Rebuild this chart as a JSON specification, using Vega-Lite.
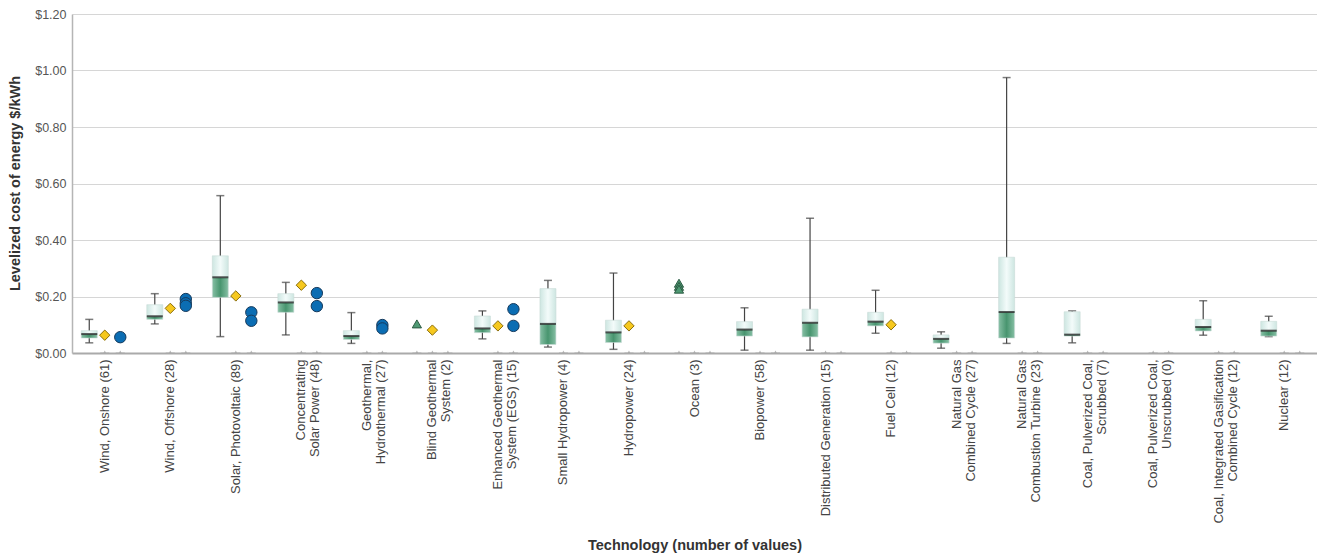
{
  "$schema": "https://vega.github.io/schema/vega-lite/v6.json",
  "autosize": {"type": "none"},
  "width": 1245,
  "height": 339,
  "padding": {"left": 72, "top": 14, "right": 0, "bottom": 201},
  "background": "white",
  "config": {"view": {"stroke": null}, "font": "Liberation Sans"},
  "datasets": {
    "boxes": [
      {"tech": "Wind, Onshore (61)", "lo": 0.036, "q1": 0.053, "median": 0.067, "q3": 0.079, "hi": 0.119},
      {"tech": "Wind, Offshore (28)", "lo": 0.103, "q1": 0.119, "median": 0.130, "q3": 0.171, "hi": 0.210},
      {"tech": "Solar, Photovoltaic (89)", "lo": 0.058, "q1": 0.197, "median": 0.268, "q3": 0.344, "hi": 0.557},
      {"tech": "Concentrating|Solar Power (48)", "lo": 0.064, "q1": 0.144, "median": 0.179, "q3": 0.210, "hi": 0.250},
      {"tech": "Geothermal,|Hydrothermal (27)", "lo": 0.034, "q1": 0.048, "median": 0.060, "q3": 0.079, "hi": 0.143},
      {"tech": "Enhanced Geothermal|System (EGS) (15)", "lo": 0.050, "q1": 0.072, "median": 0.087, "q3": 0.131, "hi": 0.149},
      {"tech": "Small Hydropower (4)", "lo": 0.021, "q1": 0.030, "median": 0.103, "q3": 0.228, "hi": 0.257},
      {"tech": "Hydropower (24)", "lo": 0.013, "q1": 0.037, "median": 0.073, "q3": 0.116, "hi": 0.283},
      {"tech": "Biopower (58)", "lo": 0.010, "q1": 0.060, "median": 0.083, "q3": 0.111, "hi": 0.160},
      {"tech": "Distributed Generation (15)", "lo": 0.010, "q1": 0.057, "median": 0.107, "q3": 0.155, "hi": 0.477},
      {"tech": "Fuel Cell (12)", "lo": 0.070, "q1": 0.096, "median": 0.111, "q3": 0.144, "hi": 0.222},
      {"tech": "Natural Gas|Combined Cycle (27)", "lo": 0.017, "q1": 0.035, "median": 0.050, "q3": 0.064, "hi": 0.075},
      {"tech": "Natural Gas|Combustion Turbine (23)", "lo": 0.034, "q1": 0.053, "median": 0.145, "q3": 0.339, "hi": 0.975},
      {"tech": "Coal, Pulverized Coal,|Scrubbed (7)", "lo": 0.036, "q1": 0.060, "median": 0.065, "q3": 0.146, "hi": 0.149},
      {"tech": "Coal, Integrated Gasification|Combined Cycle (12)", "lo": 0.063, "q1": 0.078, "median": 0.092, "q3": 0.119, "hi": 0.185},
      {"tech": "Nuclear (12)", "lo": 0.058, "q1": 0.060, "median": 0.079, "q3": 0.112, "hi": 0.130}
    ],
    "points": [
      {"tech": "Wind, Onshore (61)", "marker": "diamond", "value": 0.063},
      {"tech": "Wind, Offshore (28)", "marker": "diamond", "value": 0.158},
      {"tech": "Solar, Photovoltaic (89)", "marker": "diamond", "value": 0.202},
      {"tech": "Concentrating|Solar Power (48)", "marker": "diamond", "value": 0.240},
      {"tech": "Blind Geothermal|System (2)", "marker": "diamond", "value": 0.081},
      {"tech": "Enhanced Geothermal|System (EGS) (15)", "marker": "diamond", "value": 0.096},
      {"tech": "Hydropower (24)", "marker": "diamond", "value": 0.096},
      {"tech": "Fuel Cell (12)", "marker": "diamond", "value": 0.100},
      {"tech": "Wind, Onshore (61)", "marker": "circle", "value": 0.056},
      {"tech": "Wind, Offshore (28)", "marker": "circle", "value": 0.191},
      {"tech": "Wind, Offshore (28)", "marker": "circle", "value": 0.176},
      {"tech": "Wind, Offshore (28)", "marker": "circle", "value": 0.167},
      {"tech": "Solar, Photovoltaic (89)", "marker": "circle", "value": 0.144},
      {"tech": "Solar, Photovoltaic (89)", "marker": "circle", "value": 0.114},
      {"tech": "Concentrating|Solar Power (48)", "marker": "circle", "value": 0.212},
      {"tech": "Concentrating|Solar Power (48)", "marker": "circle", "value": 0.166},
      {"tech": "Geothermal,|Hydrothermal (27)", "marker": "circle", "value": 0.099},
      {"tech": "Geothermal,|Hydrothermal (27)", "marker": "circle", "value": 0.087},
      {"tech": "Enhanced Geothermal|System (EGS) (15)", "marker": "circle", "value": 0.155},
      {"tech": "Enhanced Geothermal|System (EGS) (15)", "marker": "circle", "value": 0.096},
      {"tech": "Blind Geothermal|System (2)", "marker": "triangle", "value": 0.103},
      {"tech": "Ocean (3)", "marker": "triangle", "value": 0.247},
      {"tech": "Ocean (3)", "marker": "triangle", "value": 0.236},
      {"tech": "Ocean (3)", "marker": "triangle", "value": 0.226}
    ],
    "zeros": [
      {"tech": "Wind, Onshore (61)", "marker": "diamond"}, {"tech": "Wind, Onshore (61)", "marker": "circle"},
      {"tech": "Wind, Offshore (28)", "marker": "diamond"}, {"tech": "Wind, Offshore (28)", "marker": "circle"},
      {"tech": "Solar, Photovoltaic (89)", "marker": "diamond"}, {"tech": "Solar, Photovoltaic (89)", "marker": "circle"},
      {"tech": "Concentrating|Solar Power (48)", "marker": "diamond"}, {"tech": "Concentrating|Solar Power (48)", "marker": "circle"},
      {"tech": "Geothermal,|Hydrothermal (27)", "marker": "diamond"}, {"tech": "Geothermal,|Hydrothermal (27)", "marker": "circle"},
      {"tech": "Blind Geothermal|System (2)", "marker": "triangle"}, {"tech": "Blind Geothermal|System (2)", "marker": "diamond"}, {"tech": "Blind Geothermal|System (2)", "marker": "circle"},
      {"tech": "Enhanced Geothermal|System (EGS) (15)", "marker": "diamond"}, {"tech": "Enhanced Geothermal|System (EGS) (15)", "marker": "circle"},
      {"tech": "Small Hydropower (4)", "marker": "diamond"}, {"tech": "Small Hydropower (4)", "marker": "circle"},
      {"tech": "Hydropower (24)", "marker": "diamond"}, {"tech": "Hydropower (24)", "marker": "circle"},
      {"tech": "Ocean (3)", "marker": "triangle"}, {"tech": "Ocean (3)", "marker": "diamond"}, {"tech": "Ocean (3)", "marker": "circle"},
      {"tech": "Biopower (58)", "marker": "diamond"}, {"tech": "Biopower (58)", "marker": "circle"},
      {"tech": "Distributed Generation (15)", "marker": "diamond"}, {"tech": "Distributed Generation (15)", "marker": "circle"},
      {"tech": "Fuel Cell (12)", "marker": "diamond"}, {"tech": "Fuel Cell (12)", "marker": "circle"},
      {"tech": "Natural Gas|Combined Cycle (27)", "marker": "diamond"}, {"tech": "Natural Gas|Combined Cycle (27)", "marker": "circle"},
      {"tech": "Natural Gas|Combustion Turbine (23)", "marker": "diamond"}, {"tech": "Natural Gas|Combustion Turbine (23)", "marker": "circle"},
      {"tech": "Coal, Pulverized Coal,|Scrubbed (7)", "marker": "diamond"}, {"tech": "Coal, Pulverized Coal,|Scrubbed (7)", "marker": "circle"},
      {"tech": "Coal, Pulverized Coal,|Unscrubbed (0)", "marker": "diamond"}, {"tech": "Coal, Pulverized Coal,|Unscrubbed (0)", "marker": "circle"},
      {"tech": "Coal, Integrated Gasification|Combined Cycle (12)", "marker": "diamond"}, {"tech": "Coal, Integrated Gasification|Combined Cycle (12)", "marker": "circle"},
      {"tech": "Nuclear (12)", "marker": "diamond"}, {"tech": "Nuclear (12)", "marker": "circle"}
    ]
  },
  "encoding": {
    "x": {
      "field": "tech", "type": "nominal",
      "scale": {
        "domain": ["Wind, Onshore (61)", "Wind, Offshore (28)", "Solar, Photovoltaic (89)", "Concentrating|Solar Power (48)", "Geothermal,|Hydrothermal (27)", "Blind Geothermal|System (2)", "Enhanced Geothermal|System (EGS) (15)", "Small Hydropower (4)", "Hydropower (24)", "Ocean (3)", "Biopower (58)", "Distributed Generation (15)", "Fuel Cell (12)", "Natural Gas|Combined Cycle (27)", "Natural Gas|Combustion Turbine (23)", "Coal, Pulverized Coal,|Scrubbed (7)", "Coal, Pulverized Coal,|Unscrubbed (0)", "Coal, Integrated Gasification|Combined Cycle (12)", "Nuclear (12)"],
        "paddingInner": 0, "paddingOuter": 0
      },
      "axis": {
        "title": "Technology (number of values)",
        "labelExpr": "split(datum.label, '|')",
        "labelAngle": -90,
        "labelFontSize": 13,
        "labelColor": "#444444",
        "labelLineHeight": 14,
        "labelPadding": 6,
        "ticks": false,
        "grid": false,
        "domainColor": "#aaaaaa",
        "domainWidth": 2,
        "titleFontSize": 14.5,
        "titleFontWeight": "bold",
        "titleColor": "#333333",
        "titleY": 196,
        "titleBaseline": "alphabetic"
      }
    }
  },
  "layer": [
    {
      "data": {"name": "boxes"},
      "mark": {"type": "rule", "color": "#444444", "strokeWidth": 1.2},
      "encoding": {
        "xOffset": {"datum": "triangle", "scale": {"domain": ["triangle", "diamond", "circle"], "paddingInner": 0, "paddingOuter": 0.613}},
        "y": {"field": "lo", "type": "quantitative", "scale": {"domain": [0, 1.2]},
          "axis": {
            "title": "Levelized cost of energy $/kWh",
            "values": [0, 0.2, 0.4, 0.6, 0.8, 1.0, 1.2],
            "labelExpr": "'$' + format(datum.value, '.2f')",
            "labelFontSize": 12.5,
            "labelColor": "#555555",
            "labelPadding": 6,
            "ticks": false,
            "gridColor": "#d6d6d6",
            "domainColor": "#b5b5b5",
            "domainWidth": 1.5,
            "titleFontSize": 14.5,
            "titleFontWeight": "bold",
            "titleColor": "#333333",
            "titleX": -57,
            "titleY": 169,
            "titleBaseline": "middle"
          }},
        "y2": {"field": "hi"}
      }
    },
    {
      "data": {"name": "boxes"},
      "mark": {"type": "tick", "color": "#444444", "thickness": 1.5, "size": 8},
      "encoding": {"xOffset": {"datum": "triangle"}, "y": {"field": "lo", "type": "quantitative"}}
    },
    {
      "data": {"name": "boxes"},
      "mark": {"type": "tick", "color": "#444444", "thickness": 1.5, "size": 8},
      "encoding": {"xOffset": {"datum": "triangle"}, "y": {"field": "hi", "type": "quantitative"}}
    },
    {
      "data": {"name": "boxes"},
      "mark": {"type": "bar", "width": 16, "stroke": "#c9dcd7", "strokeWidth": 0.6,
        "color": {"gradient": "linear", "x1": 0, "y1": 0, "x2": 1, "y2": 0,
          "stops": [{"offset": 0, "color": "#86bfa4"}, {"offset": 0.5, "color": "#48956f"}, {"offset": 1, "color": "#86bfa4"}]}},
      "encoding": {"xOffset": {"datum": "triangle"}, "y": {"field": "q1", "type": "quantitative"}, "y2": {"field": "median"}}
    },
    {
      "data": {"name": "boxes"},
      "mark": {"type": "bar", "width": 16, "stroke": "#c9dcd7", "strokeWidth": 0.6,
        "color": {"gradient": "linear", "x1": 0, "y1": 0, "x2": 1, "y2": 0,
          "stops": [{"offset": 0, "color": "#cde6e1"}, {"offset": 0.5, "color": "#f3fbfa"}, {"offset": 1, "color": "#cde6e1"}]}},
      "encoding": {"xOffset": {"datum": "triangle"}, "y": {"field": "median", "type": "quantitative"}, "y2": {"field": "q3"}}
    },
    {
      "data": {"name": "boxes"},
      "mark": {"type": "tick", "color": "#111111", "thickness": 2, "size": 16},
      "encoding": {"xOffset": {"datum": "triangle"}, "y": {"field": "median", "type": "quantitative"}}
    },
    {
      "data": {"name": "zeros"},
      "mark": {"type": "tick", "color": "#aaaaaa", "thickness": 1.2, "size": 9},
      "encoding": {"xOffset": {"field": "marker"}, "y": {"datum": 0, "type": "quantitative"}}
    },
    {
      "data": {"name": "zeros"},
      "mark": {"type": "point", "shape": "triangle-up", "filled": true, "color": "#999999", "size": 6},
      "encoding": {"xOffset": {"field": "marker"}, "y": {"datum": 0.005, "type": "quantitative"}}
    },
    {
      "data": {"name": "points"},
      "mark": {"type": "point", "filled": true, "opacity": 1, "strokeWidth": 1},
      "encoding": {
        "xOffset": {"field": "marker"},
        "y": {"field": "value", "type": "quantitative"},
        "shape": {"field": "marker", "type": "nominal", "legend": null,
          "scale": {"domain": ["triangle", "diamond", "circle"], "range": ["triangle-up", "diamond", "circle"]}},
        "fill": {"field": "marker", "type": "nominal", "legend": null,
          "scale": {"domain": ["triangle", "diamond", "circle"], "range": ["#4f9a74", "#f6c81e", "#0b6db3"]}},
        "stroke": {"field": "marker", "type": "nominal", "legend": null,
          "scale": {"domain": ["triangle", "diamond", "circle"], "range": ["#2b5a42", "#8a6d0a", "#163a5c"]}},
        "size": {"field": "marker", "type": "nominal", "legend": null,
          "scale": {"domain": ["triangle", "diamond", "circle"], "range": [85, 130, 135]}}
      }
    }
  ]
}
